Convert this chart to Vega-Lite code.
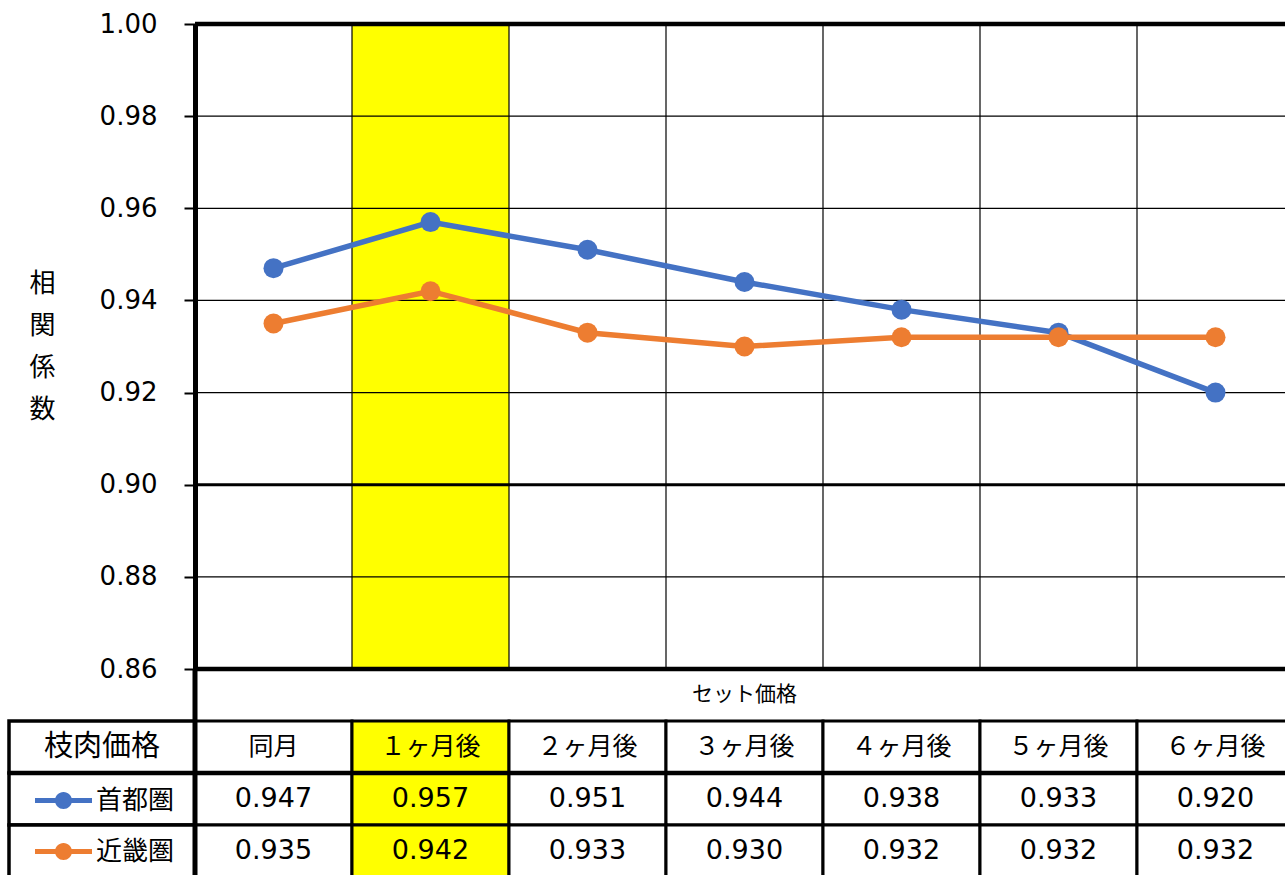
{
  "$schema": "https://vega.github.io/schema/vega-lite/v6.json",
  "background": "white",
  "padding": {"left": 6, "top": 11, "right": 0, "bottom": 0},
  "autosize": {"type": "pad"},
  "columns": 2,
  "spacing": 0,
  "bounds": "flush",
  "config": {"view": {"stroke": null}, "font": "DejaVu Sans"},
  "datasets": {
    "corr": [
      {"period": "同月", "region": "首都圏", "value": 0.947},
      {"period": "１ヶ月後", "region": "首都圏", "value": 0.957},
      {"period": "２ヶ月後", "region": "首都圏", "value": 0.951},
      {"period": "３ヶ月後", "region": "首都圏", "value": 0.944},
      {"period": "４ヶ月後", "region": "首都圏", "value": 0.938},
      {"period": "５ヶ月後", "region": "首都圏", "value": 0.933},
      {"period": "６ヶ月後", "region": "首都圏", "value": 0.920},
      {"period": "同月", "region": "近畿圏", "value": 0.935},
      {"period": "１ヶ月後", "region": "近畿圏", "value": 0.942},
      {"period": "２ヶ月後", "region": "近畿圏", "value": 0.933},
      {"period": "３ヶ月後", "region": "近畿圏", "value": 0.930},
      {"period": "４ヶ月後", "region": "近畿圏", "value": 0.932},
      {"period": "５ヶ月後", "region": "近畿圏", "value": 0.932},
      {"period": "６ヶ月後", "region": "近畿圏", "value": 0.932}
    ]
  },
  "concat": [
    {
      "width": 186,
      "height": 645,
      "data": {"values": []},
      "mark": "point",
      "encoding": {}
    },
    {
      "width": 1099,
      "height": 645,
      "data": {"name": "corr"},
      "layer": [
        {
          "data": {"values": [{"period": "１ヶ月後"}]},
          "mark": {"type": "rect", "color": "#FFFF00"},
          "encoding": {
            "x": {
              "field": "period",
              "type": "nominal",
              "scale": {"type": "band", "domain": ["同月", "１ヶ月後", "２ヶ月後", "３ヶ月後", "４ヶ月後", "５ヶ月後", "６ヶ月後"], "paddingInner": 0, "paddingOuter": 0},
              "axis": null
            },
            "y": {"datum": 0.86, "type": "quantitative"},
            "y2": {"datum": 1.0}
          }
        },
        {
          "transform": [{"filter": "datum.region === '首都圏'"}],
          "mark": {"type": "rule", "color": "black", "strokeWidth": 1.2},
          "encoding": {"x": {"field": "period", "type": "nominal", "bandPosition": 0}}
        },
        {
          "data": {"values": [{"g": 0.86}, {"g": 0.88}, {"g": 0.90}, {"g": 0.92}, {"g": 0.94}, {"g": 0.96}, {"g": 0.98}, {"g": 1.0}]},
          "mark": {"type": "rule", "color": "black"},
          "encoding": {
            "y": {"field": "g", "type": "quantitative"},
            "strokeWidth": {
              "condition": [
                {"test": "datum.g === 0.9", "value": 3},
                {"test": "datum.g === 0.86 || datum.g === 1", "value": 4.5}
              ],
              "value": 1.2
            }
          }
        },
        {
          "mark": {"type": "line", "strokeWidth": 5.5},
          "encoding": {
            "x": {"field": "period", "type": "nominal"},
            "y": {"field": "value", "type": "quantitative"},
            "color": {
              "field": "region",
              "type": "nominal",
              "scale": {"domain": ["首都圏", "近畿圏"], "range": ["#4472C4", "#ED7D31"]},
              "legend": {
                "orient": "none", "legendX": 40, "legendY": 762, "title": null, "padding": 0,
                "symbolType": "M-2,-0.18H2V0.18H-2Z M0.6,0A0.6,0.6,0,1,1,-0.6,0A0.6,0.6,0,1,1,0.6,0Z",
                "symbolSize": 812, "symbolStrokeWidth": 0, "symbolOpacity": 1,
                "labelFont": "Noto Sans CJK JP", "labelFontSize": 26, "labelColor": "black",
                "labelOffset": 18, "rowPadding": 23, "direction": "vertical"
              }
            }
          }
        },
        {
          "mark": {"type": "point", "filled": true, "size": 400, "opacity": 1},
          "encoding": {
            "x": {"field": "period", "type": "nominal"},
            "y": {
              "field": "value",
              "type": "quantitative",
              "scale": {"domain": [0.86, 1.0], "nice": false, "zero": false},
              "axis": {
                "values": [0.86, 0.88, 0.90, 0.92, 0.94, 0.96, 0.98, 1.0],
                "format": ".2f",
                "grid": false,
                "domain": true, "domainColor": "black", "domainWidth": 5,
                "ticks": true, "tickColor": "black", "tickSize": 11, "tickWidth": 2,
                "labelFont": "DejaVu Sans", "labelFontSize": 26, "labelColor": "black", "labelPadding": 27,
                "title": ["相", "関", "係", "数"],
                "titleAngle": 0, "titleFont": "Noto Sans CJK JP", "titleFontSize": 26, "titleFontWeight": "normal",
                "titleColor": "black", "titleLineHeight": 42, "titleX": -153, "titleY": 259,
                "titleAlign": "center", "titleBaseline": "middle",
                "zindex": 1
              }
            },
            "color": {
              "field": "region",
              "type": "nominal",
              "scale": {"domain": ["首都圏", "近畿圏"], "range": ["#4472C4", "#ED7D31"]},
              "legend": {
                "orient": "none", "legendX": 40, "legendY": 762, "title": null, "padding": 0,
                "symbolType": "M-2,-0.18H2V0.18H-2Z M0.6,0A0.6,0.6,0,1,1,-0.6,0A0.6,0.6,0,1,1,0.6,0Z",
                "symbolSize": 812, "symbolStrokeWidth": 0, "symbolOpacity": 1,
                "labelFont": "Noto Sans CJK JP", "labelFontSize": 26, "labelColor": "black",
                "labelOffset": 18, "rowPadding": 23, "direction": "vertical"
              }
            }
          }
        }
      ]
    },
    {
      "width": 186,
      "height": 208,
      "data": {"values": [{"row": "枝肉価格"}, {"row": "首都圏"}, {"row": "近畿圏"}]},
      "layer": [
        {
          "mark": {"type": "rect", "fill": "white", "stroke": "black", "strokeWidth": 3.5},
          "encoding": {
            "y": {
              "field": "row",
              "type": "nominal",
              "scale": {"type": "band", "domain": ["セット価格", "枝肉価格", "首都圏", "近畿圏"], "paddingInner": 0, "paddingOuter": 0},
              "axis": null
            }
          }
        },
        {
          "transform": [{"filter": "datum.row === '首都圏'"}],
          "mark": {"type": "rule", "color": "black", "strokeWidth": 4.5},
          "encoding": {"y": {"field": "row", "type": "nominal", "bandPosition": 0}}
        },
        {
          "transform": [{"filter": "datum.row === '枝肉価格'"}],
          "mark": {"type": "text", "font": "Noto Sans CJK JP", "fontSize": 29, "color": "black"},
          "encoding": {"y": {"field": "row", "type": "nominal"}, "text": {"field": "row"}}
        }
      ]
    },
    {
      "width": 1099,
      "height": 208,
      "data": {"name": "corr"},
      "layer": [
        {
          "mark": {"type": "rect", "stroke": "black", "strokeWidth": 3},
          "encoding": {
            "x": {
              "field": "period",
              "type": "nominal",
              "scale": {"type": "band", "domain": ["同月", "１ヶ月後", "２ヶ月後", "３ヶ月後", "４ヶ月後", "５ヶ月後", "６ヶ月後"], "paddingInner": 0, "paddingOuter": 0},
              "axis": null
            },
            "y": {
              "field": "region",
              "type": "nominal",
              "scale": {"type": "band", "domain": ["セット価格", "枝肉価格", "首都圏", "近畿圏"], "paddingInner": 0, "paddingOuter": 0},
              "axis": null
            },
            "fill": {"condition": {"test": "datum.period === '１ヶ月後'", "value": "#FFFF00"}, "value": "white"}
          }
        },
        {
          "transform": [{"filter": "datum.region === '首都圏'"}],
          "mark": {"type": "rect", "stroke": "black", "strokeWidth": 3},
          "encoding": {
            "x": {"field": "period", "type": "nominal"},
            "y": {"datum": "枝肉価格"},
            "fill": {"condition": {"test": "datum.period === '１ヶ月後'", "value": "#FFFF00"}, "value": "white"}
          }
        },
        {
          "transform": [{"filter": "datum.region === '首都圏' && datum.period === '同月'"}],
          "mark": {"type": "rule", "color": "black", "strokeWidth": 4.5},
          "encoding": {"y": {"field": "region", "type": "nominal", "bandPosition": 0}}
        },
        {
          "transform": [{"filter": "datum.region === '首都圏' && datum.period === '同月'"}],
          "mark": {"type": "rule", "color": "black", "strokeWidth": 5},
          "encoding": {"x": {"field": "period", "type": "nominal", "bandPosition": 0}}
        },
        {
          "transform": [{"filter": "datum.region === '首都圏'"}],
          "mark": {"type": "text", "font": "Noto Sans CJK JP", "fontSize": 25, "color": "black"},
          "encoding": {"x": {"field": "period", "type": "nominal"}, "y": {"datum": "枝肉価格"}, "text": {"field": "period"}}
        },
        {
          "mark": {"type": "text", "font": "DejaVu Sans", "fontSize": 27, "color": "black"},
          "encoding": {
            "x": {"field": "period", "type": "nominal"},
            "y": {"field": "region", "type": "nominal"},
            "text": {"field": "value", "type": "quantitative", "format": ".3f"}
          }
        },
        {
          "data": {"values": [{"label": "セット価格"}]},
          "mark": {"type": "text", "font": "Noto Sans CJK JP", "fontSize": 21, "color": "black"},
          "encoding": {
            "x": {"datum": "３ヶ月後"},
            "y": {"field": "label", "type": "nominal"},
            "text": {"field": "label"}
          }
        }
      ]
    }
  ]
}
